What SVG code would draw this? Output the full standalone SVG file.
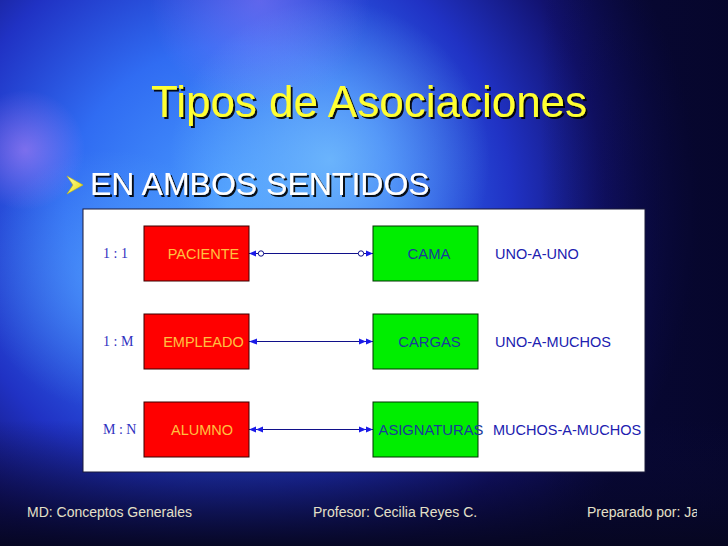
<svg xmlns="http://www.w3.org/2000/svg" width="728" height="546" viewBox="0 0 728 546">
<defs>
<radialGradient id="bgMain" cx="230" cy="210" r="470" gradientUnits="userSpaceOnUse">
<stop offset="0" stop-color="#4a9cff"/>
<stop offset="0.35" stop-color="#306cf2"/>
<stop offset="0.6" stop-color="#2032c4"/>
<stop offset="0.8" stop-color="#121270"/>
<stop offset="1" stop-color="#080838"/>
</radialGradient>
<radialGradient id="cyan" cx="330" cy="160" r="160" gradientUnits="userSpaceOnUse">
<stop offset="0" stop-color="#80ccff" stop-opacity="0.7"/>
<stop offset="1" stop-color="#80ccff" stop-opacity="0"/>
</radialGradient>
<radialGradient id="cyan2" cx="110" cy="280" r="130" gradientUnits="userSpaceOnUse">
<stop offset="0" stop-color="#60b0ff" stop-opacity="0.55"/>
<stop offset="1" stop-color="#60b0ff" stop-opacity="0"/>
</radialGradient>
<radialGradient id="mag" cx="25" cy="150" r="60" gradientUnits="userSpaceOnUse">
<stop offset="0" stop-color="#e090ff" stop-opacity="0.45"/>
<stop offset="1" stop-color="#e090ff" stop-opacity="0"/>
</radialGradient>
<radialGradient id="mag2" cx="260" cy="0" r="110" gradientUnits="userSpaceOnUse">
<stop offset="0" stop-color="#b080ff" stop-opacity="0.4"/>
<stop offset="1" stop-color="#b080ff" stop-opacity="0"/>
</radialGradient>
<linearGradient id="rightDark" x1="540" y1="0" x2="728" y2="0" gradientUnits="userSpaceOnUse">
<stop offset="0" stop-color="#06062a" stop-opacity="0"/>
<stop offset="1" stop-color="#06062a" stop-opacity="0.85"/>
</linearGradient>
<linearGradient id="botDark" x1="0" y1="420" x2="0" y2="546" gradientUnits="userSpaceOnUse">
<stop offset="0" stop-color="#0a0a3a" stop-opacity="0"/>
<stop offset="1" stop-color="#060620" stop-opacity="0.95"/>
</linearGradient>
<linearGradient id="bul" x1="0" y1="0" x2="1" y2="1">
<stop offset="0" stop-color="#ffffb0"/>
<stop offset="1" stop-color="#e8d800"/>
</linearGradient>
<filter id="shadow" x="-5%" y="-20%" width="110%" height="140%">
<feDropShadow dx="2" dy="2" stdDeviation="0.4" flood-color="#000" flood-opacity="0.9"/>
</filter>
<clipPath id="footClip"><rect x="0" y="490" width="697" height="50"/></clipPath>
<marker id="m1" viewBox="0 0 8 8" refX="8" refY="4" markerWidth="8" markerHeight="8" markerUnits="userSpaceOnUse" orient="auto-start-reverse">
<path d="M0,1 L8,4 L0,7 z" fill="#1a1ae8"/>
</marker>
<marker id="m2" viewBox="0 0 14 8" refX="14" refY="4" markerWidth="14" markerHeight="8" markerUnits="userSpaceOnUse" orient="auto-start-reverse">
<path d="M0,1 L7,4 L0,7 z M7,1 L14,4 L7,7 z" fill="#1a1ae8"/>
</marker>
<marker id="mc" viewBox="0 0 16 8" refX="16" refY="4" markerWidth="16" markerHeight="8" markerUnits="userSpaceOnUse" orient="auto-start-reverse">
<circle cx="4" cy="4" r="2.7" fill="#fff" stroke="#10108a" stroke-width="1"/>
<path d="M9,1 L16,4 L9,7 z" fill="#1a1ae8"/>
</marker>
</defs>
<style>
.ent{fill:#ff0000;stroke:#3a0000;stroke-width:1}
.rel{fill:#00ee00;stroke:#003300;stroke-width:1}
.et{font-family:"Liberation Sans",Arial,sans-serif;font-size:14.5px;fill:#ffc040;text-anchor:middle}
.rt{font-family:"Liberation Sans",Arial,sans-serif;font-size:14.8px;fill:#1a3a9a;text-anchor:middle}
.lab{font-family:"Liberation Sans",Arial,sans-serif;font-size:14.5px;fill:#2020b0}
.card{font-family:"Liberation Serif","Times New Roman",serif;font-size:14px;fill:#3030c0}
.conn{stroke:#10108a;stroke-width:1.2;fill:none}
.foot{font-family:"Liberation Sans",Arial,sans-serif;font-size:14px;fill:#e4e0c8}
</style>
<g id="background">
<rect width="728" height="546" fill="url(#bgMain)"/>
<rect width="728" height="546" fill="url(#cyan)"/>
<rect width="728" height="546" fill="url(#cyan2)"/>
<rect width="728" height="546" fill="url(#mag)"/>
<rect width="728" height="546" fill="url(#mag2)"/>
<rect width="728" height="546" fill="url(#rightDark)"/>
<rect y="420" width="728" height="126" fill="url(#botDark)"/>
</g>
<g id="title">
<text x="369" y="117" font-family="'Liberation Sans',Arial,sans-serif" font-size="44" fill="#ffff30" text-anchor="middle" filter="url(#shadow)">Tipos de Asociaciones</text>
</g>
<g id="bullet">
<polygon points="67,176 83,185 67,194 73,185" fill="url(#bul)" stroke="#c8b800" stroke-width="0.6"/>
<text x="90" y="195" font-family="'Liberation Sans',Arial,sans-serif" font-size="32" fill="#ffffff" filter="url(#shadow)">EN AMBOS SENTIDOS</text>
</g>
<g id="panel">
<rect x="83" y="209" width="562" height="263" fill="#ffffff" stroke="#1a1a3a" stroke-width="1"/>
</g>
<g id="connectors">
<line class="conn" x1="249" y1="253.5" x2="373" y2="253.5" marker-start="url(#mc)" marker-end="url(#mc)"/>
<line class="conn" x1="249" y1="341.5" x2="373" y2="341.5" marker-start="url(#m1)" marker-end="url(#m2)"/>
<line class="conn" x1="249" y1="429.5" x2="373" y2="429.5" marker-start="url(#m2)" marker-end="url(#m2)"/>
</g>
<g id="row1">
<text class="card" x="103" y="258">1 : 1</text>
<g id="paciente"><rect class="ent" x="144" y="226" width="105" height="55"/><text class="et" x="203.5" y="258.5">PACIENTE</text></g>
<g id="cama"><rect class="rel" x="373" y="226" width="105" height="55"/><text class="rt" x="429" y="258.5">CAMA</text></g>
<text class="lab" x="495" y="258.5">UNO-A-UNO</text>
</g>
<g id="row2">
<text class="card" x="103" y="346">1 : M</text>
<g id="empleado"><rect class="ent" x="144" y="314" width="105" height="55"/><text class="et" x="203.5" y="346.5">EMPLEADO</text></g>
<g id="cargas"><rect class="rel" x="373" y="314" width="105" height="55"/><text class="rt" x="429.5" y="346.5">CARGAS</text></g>
<text class="lab" x="495" y="346.5">UNO-A-MUCHOS</text>
</g>
<g id="row3">
<text class="card" x="103" y="434">M : N</text>
<g id="alumno"><rect class="ent" x="144" y="402" width="105" height="55"/><text class="et" x="202" y="434.5">ALUMNO</text></g>
<g id="asignaturas"><rect class="rel" x="373" y="402" width="105" height="55"/><text class="rt" x="431" y="434.5">ASIGNATURAS</text></g>
<text class="lab" x="493" y="434.5">MUCHOS-A-MUCHOS</text>
</g>
<g id="footer">
<text class="foot" x="27" y="517">MD: Conceptos Generales</text>
<text class="foot" x="313" y="517">Profesor: Cecilia Reyes C.</text>
<text class="foot" x="587" y="517" clip-path="url(#footClip)">Preparado por: Ja</text>
</g>
</svg>
